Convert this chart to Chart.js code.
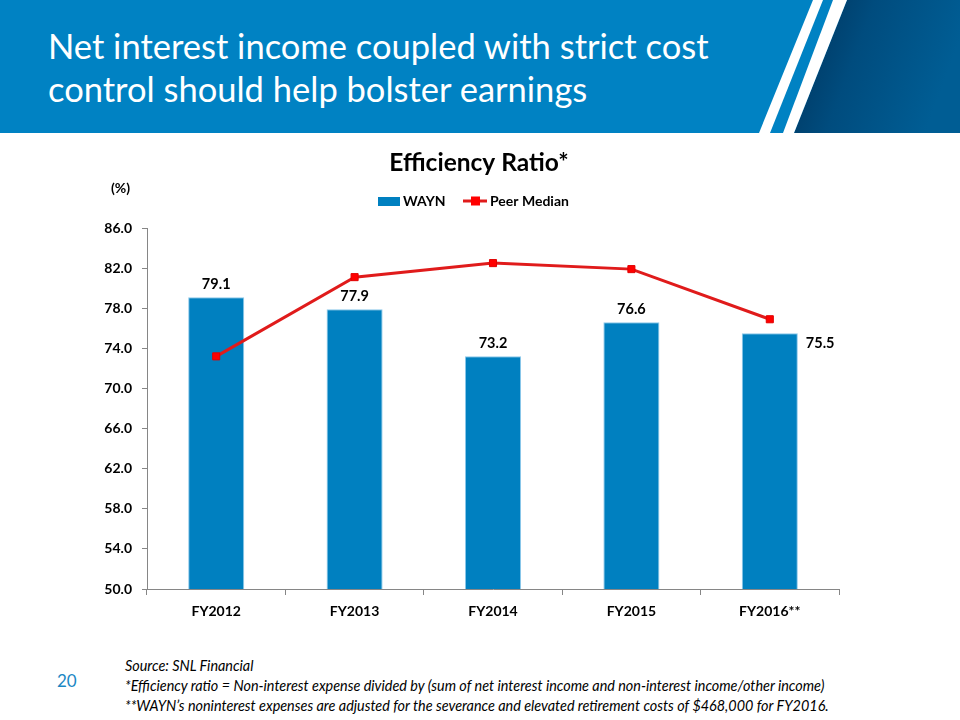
<!DOCTYPE html>
<html><head><meta charset="utf-8">
<script src="https://cdn.jsdelivr.net/npm/chart.js@4"></script>
<style>
html,body{margin:0;padding:0;background:#fff;}
#wrap{position:relative;width:960px;height:720px;overflow:hidden;font-family:Lato,'Open Sans',sans-serif;}
#hdr{position:absolute;left:0;top:0;width:960px;height:133px;}
#ttl{position:absolute;left:48px;top:24px;color:#fff;font-size:34.5px;line-height:43px;white-space:nowrap;}
#c{position:absolute;left:0;top:140px;}
#pg{position:absolute;left:57px;top:670px;color:#1b87c4;font-size:17px;}
#foot{position:absolute;left:125px;top:656px;font-style:italic;font-size:14.4px;line-height:20px;color:#000;white-space:nowrap;}
</style></head>
<body>
<div id="wrap">
<svg id="hdr" width="960" height="133">
<defs><linearGradient id="g" x1="0" y1="0" x2="1" y2="0.3"><stop offset="0" stop-color="#00325a"/><stop offset="0.45" stop-color="#004c7e"/><stop offset="1" stop-color="#005d94"/></linearGradient></defs>
<rect width="960" height="133" fill="#0082c3"/>
<polygon points="847,0 960,0 960,133 794,133" fill="url(#g)"/>
<polygon points="813,0 823,0 770,133 759,133" fill="#fff"/>
<polygon points="833,0 847,0 794,133 783,133" fill="#fff"/>
</svg>
<div id="ttl">Net interest income coupled with strict cost<br>control should help bolster earnings</div>
<canvas id="c" width="960" height="500"></canvas>
<div id="pg">20</div>
<div id="foot">Source: SNL Financial<br>*Efficiency ratio = Non-interest expense divided by (sum of net interest income and non-interest income/other income)<br>**WAYN’s noninterest expenses are adjusted for the severance and elevated retirement costs of $468,000 for FY2016.</div>
</div>
<script>
const categories = ['FY2012','FY2013','FY2014','FY2015','FY2016**'];
const waynValues = [79.1, 77.9, 73.2, 76.6, 75.5];
const peerMedian = [73.2, 81.1, 82.5, 81.9, 76.9];
const yMin = 50, yMax = 86, yStep = 4;
const seriesNames = ['WAYN','Peer Median'];
const chartTitle = 'Efficiency Ratio*';

const FONT = 'Lato, "Open Sans", sans-serif';
const BLUE = '#0080c0', RED = '#e01b1b';

const extras = {
  id: 'extras',
  afterDatasetsDraw(chart) {
    const ctx = chart.ctx;
    ctx.save();
    ctx.fillStyle = '#000';
    ctx.textBaseline = 'middle';
    // chart title
    ctx.font = 'bold 24.5px ' + FONT;
    ctx.textAlign = 'center';
    ctx.fillText(chartTitle, 479, 23);
    // data labels
    ctx.font = 'bold 14.5px ' + FONT;
    const meta = chart.getDatasetMeta(0);
    meta.data.forEach((bar, i) => {
      const txt = waynValues[i].toFixed(1);
      if (i === waynValues.length - 1) {
        ctx.textAlign = 'left';
        ctx.fillText(txt, bar.x + bar.width / 2 + 8, bar.y + 10);
      } else {
        ctx.textAlign = 'center';
        ctx.fillText(txt, bar.x, bar.y - 13);
      }
    });
    ctx.font = 'bold 14px ' + FONT;
    ctx.textAlign = 'left';
    ctx.fillText('(%)', 111, 48);
    // legend
    const ly = 61;
    ctx.fillStyle = BLUE;
    ctx.fillRect(378, ly - 4, 22, 9);
    ctx.fillStyle = '#000';
    ctx.fillText(seriesNames[0], 403, ly);
    ctx.strokeStyle = RED; ctx.lineWidth = 3;
    ctx.beginPath(); ctx.moveTo(463, ly); ctx.lineTo(487, ly); ctx.stroke();
    ctx.fillStyle = '#f00';
    ctx.fillRect(471, ly - 4.5, 9, 9);
    ctx.fillStyle = '#000';
    ctx.fillText(seriesNames[1], 490, ly);
    ctx.restore();
  }
};

new Chart(document.getElementById('c'), {
  data: {
    labels: categories,
    datasets: [
      { type: 'bar', label: seriesNames[0], data: waynValues, backgroundColor: BLUE,
        borderColor: '#8cc8ea', borderWidth: 1,
        barPercentage: 0.405, categoryPercentage: 1, order: 2 },
      { type: 'line', label: seriesNames[1], data: peerMedian, borderColor: RED, borderWidth: 3,
        pointStyle: 'rect', pointRadius: 5, pointBackgroundColor: '#f00', pointBorderColor: '#e00000',
        pointBorderWidth: 1, tension: 0, order: 1 }
    ]
  },
  options: {
    responsive: false,
    animation: false,
    devicePixelRatio: 1,
    layout: { padding: { left: 0, right: 121, top: 88, bottom: 0 } },
    plugins: {
      legend: { display: false },
      tooltip: { enabled: false },
      title: { display: false }
    },
    scales: {
      x: {
        grid: { display: true, drawOnChartArea: false, drawTicks: true, tickLength: 6, color: '#868686' },
        border: { display: true, color: '#868686', width: 1 },
        ticks: { color: '#000', font: { family: FONT, size: 14, weight: 'bold' }, padding: 8 },
        afterFit(s) { s.height = 51; }
      },
      y: {
        min: yMin, max: yMax,
        grid: { display: true, drawOnChartArea: false, drawTicks: true, tickLength: 5, color: '#868686' },
        border: { display: true, color: '#868686', width: 1 },
        ticks: { stepSize: yStep, color: '#000', font: { family: FONT, size: 14, weight: 'bold' }, padding: 10,
          callback: v => Number(v).toFixed(1) },
        afterFit(s) { s.width = 147; }
      }
    }
  },
  plugins: [extras]
});
</script>
</body></html>
